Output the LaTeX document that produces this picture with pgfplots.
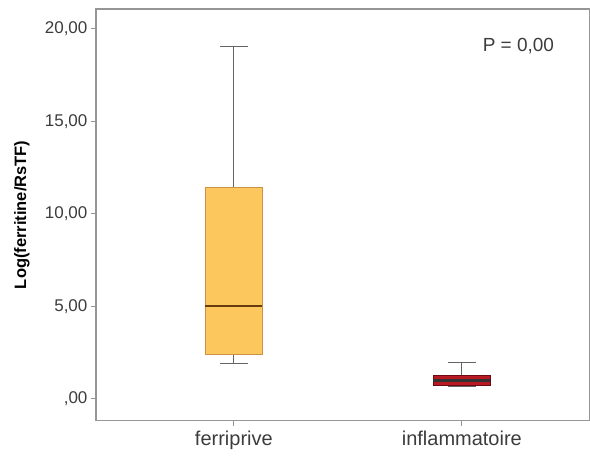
\documentclass[border=0pt]{standalone}
\usepackage{pgfplots}
\pgfplotsset{compat=1.18}
\usepgfplotslibrary{statistics}
\usepackage{fontspec}
\setmainfont{Liberation Sans}
\definecolor{axgray}{RGB}{150,150,150}
\definecolor{txtgray}{RGB}{60,60,60}
\definecolor{boxorange}{RGB}{252,199,92}
\definecolor{boxorangeedge}{RGB}{205,145,70}
\definecolor{medbrown}{RGB}{105,60,15}
\definecolor{boxred}{RGB}{185,25,35}
\definecolor{boxrededge}{RGB}{110,10,20}
\definecolor{whiskgray}{RGB}{100,100,100}
\begin{document}
\begin{tikzpicture}
\path[use as bounding box] (-96pt,-38pt) rectangle (494.5pt,421pt);
\begin{axis}[
  scale only axis,
  width=494pt, height=412pt,
  xmin=0.395, xmax=2.56,
  ymin=-1.19, ymax=21.08,
  axis line style={draw=axgray, line width=1.2pt},
  xtick={1,2}, xticklabels={ferriprive,inflammatoire},
  ytick={0,5,10,15,20},
  yticklabels={{,00},{5,00},{10,00},{15,00},{20,00}},
  tick align=outside,
  tick pos=left,
  major tick length=5pt,
  tick style={draw=axgray, line width=1pt},
  y tick label style={font=\fontsize{17}{19}\selectfont, text=txtgray},
  x tick label style={font=\fontsize{20}{22}\selectfont, text=txtgray, yshift=-2pt},
  /pgf/number format/assume math mode=true,
  ylabel={Log(ferritine/RsTF)},
  every axis y label/.style={at={(rel axis cs:0,0.5)}, rotate=90, anchor=center, yshift=74pt, font=\bfseries\fontsize{16.5}{18}\selectfont, text=black},
  boxplot/draw direction=y,
  boxplot/box extend=0.25,
  boxplot/whisker extend=0.12,
]
\addplot+[
  boxplot prepared={
    draw position=1,
    lower whisker=1.89, lower quartile=2.38,
    median=5.0, upper quartile=11.4, upper whisker=19.03,
  },
  boxplot/every box/.style={draw=boxorangeedge, fill=boxorange, line width=1pt},
  boxplot/every whisker/.style={draw=whiskgray, line width=1.2pt},
  boxplot/every median/.style={draw=medbrown, line width=2.5pt},
  mark=none, solid,
] coordinates {};
\addplot+[
  boxplot prepared={
    draw position=2,
    lower whisker=0.65, lower quartile=0.72,
    median=0.97, upper quartile=1.24, upper whisker=1.95,
  },
  boxplot/every box/.style={draw=boxrededge, fill=boxred, line width=1pt},
  boxplot/every whisker/.style={draw=whiskgray, line width=1.2pt},
  boxplot/every median/.style={draw=black!80, line width=2.5pt},
  mark=none, solid,
] coordinates {};
\node[anchor=east, font=\fontsize{19}{21}\selectfont, text=txtgray] at (axis cs:2.42,19.1) {P = 0,00};
\end{axis}
\end{tikzpicture}
\end{document}
